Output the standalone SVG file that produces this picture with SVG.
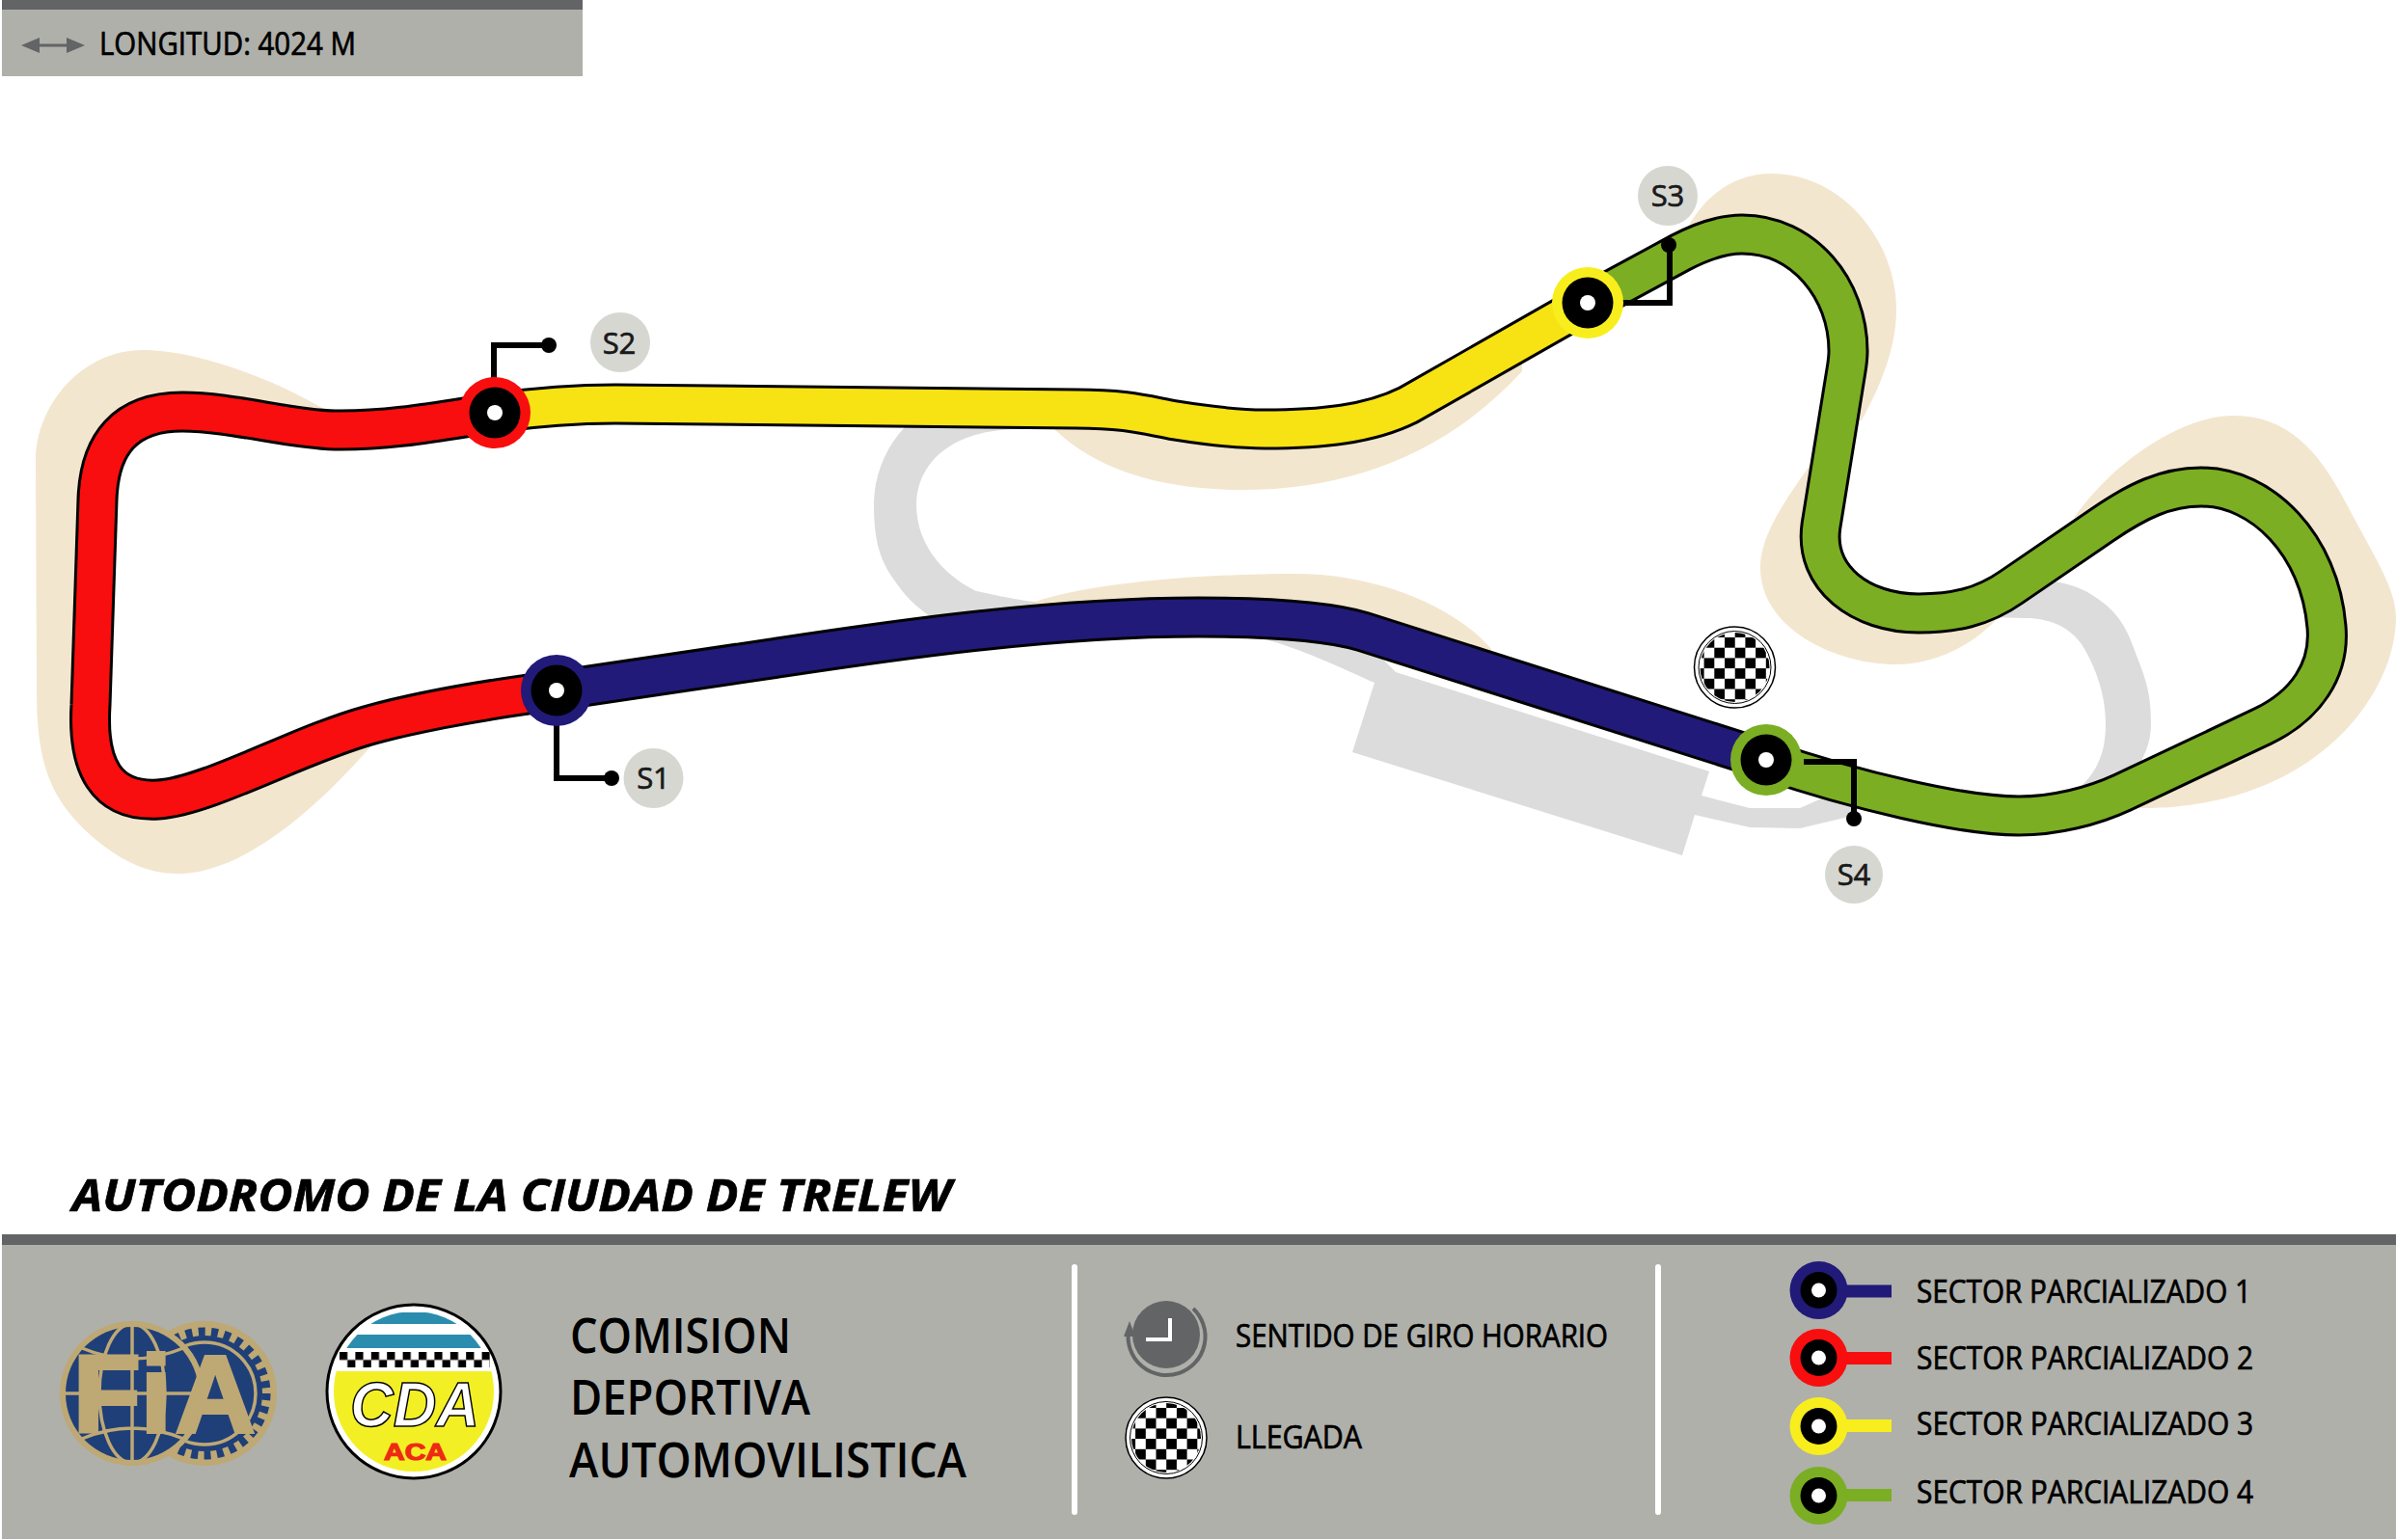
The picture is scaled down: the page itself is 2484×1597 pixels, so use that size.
<svg xmlns="http://www.w3.org/2000/svg" width="2484" height="1597" viewBox="0 0 2484 1597">
<style>
text{font-family:"Open Sans","Liberation Sans",sans-serif;fill:#000;stroke:#000;stroke-width:.7}
.beige{fill:#f3e6cf}
.grey{fill:#dddcdd}
.out{fill:none;stroke:#000;stroke-width:43;stroke-linejoin:round}
.in{fill:none;stroke-width:37;stroke-linejoin:round}
.lead{fill:none;stroke:#000;stroke-width:6}
.tag{fill:#d6d7d1}
.tagt{font-size:31px;text-anchor:middle;fill:#1a1a1a;stroke:#1a1a1a}
.leg{font-size:32px}
.org{font-size:50px;font-weight:600;stroke:none}
.ring-b{fill:#211a78}.ring-r{fill:#f80e0e}.ring-y{fill:#f8ee1e}.ring-g{fill:#7bae23}
.gold{fill:none;stroke:#bea874;stroke-width:3.5}
</style>
<defs>
<pattern id="chk" x="1777.3" y="671.7" width="21.4" height="21.4" patternUnits="userSpaceOnUse"><rect width="21.4" height="21.4" fill="#fff"/><rect width="10.7" height="10.7" fill="#000"/><rect x="10.7" y="10.7" width="10.7" height="10.7" fill="#000"/></pattern>
<pattern id="chkl" x="1187.8" y="1470.7" width="21.4" height="21.4" patternUnits="userSpaceOnUse"><rect width="21.4" height="21.4" fill="#fff"/><rect width="10.7" height="10.7" fill="#000"/><rect x="10.7" y="10.7" width="10.7" height="10.7" fill="#000"/></pattern>
<pattern id="chk2" x="352" y="1402" width="16.4" height="16.4" patternUnits="userSpaceOnUse"><rect width="16.4" height="16.4" fill="#fff"/><rect width="8.2" height="8.2" fill="#000"/><rect x="8.2" y="8.2" width="8.2" height="8.2" fill="#000"/></pattern>
<clipPath id="cdaclip"><circle cx="429" cy="1443" r="83"/></clipPath>
<g id="pin"><circle r="26.5" fill="#000"/><circle r="8" fill="#fff"/></g>
<g id="lpin"><circle r="19" fill="#000"/><circle r="7.5" fill="#fff"/></g>
<path id="t1" d="M577,716 L800,683 C900,668 1080,640 1242,640 C1320,640 1380,645 1413,655 L1831,788"/>
<path id="t2" d="M513,428 C460,436 405,447 347,446 C300,445 240,427 189,427 C130,427 103,460 101,518 L94,731 C90,795 110,832 164,829 C215,826 310,772 383,752 C430,739 500,726 577,716"/>
<path id="t3" d="M513,428 C550,423 590,419 638,419 L1116,424 C1170,424 1190,431 1219,436 C1250,441 1280,445 1311,445 C1370,445 1420,440 1460,420 L1646,314"/>
<path id="t4" d="M1646,314 L1742,262 C1765,250 1785,243 1806,243 C1870,243 1916,300 1916,364 C1916,372 1915,378 1914,384 L1888,545 C1880,600 1930,636 1989,636 C2025,636 2055,630 2085,609 L2180,544 C2215,520 2245,505 2282,505 C2345,505 2405,565 2412,650 C2416,695 2390,732 2346,753 L2200,822 C2170,836 2130,846 2093,846 C2035,846 1925,820 1831,788"/>
</defs>

<g id="header">
<rect x="2" y="0" width="602" height="79" fill="#afb0aa"/>
<rect x="2" y="0" width="602" height="10" fill="#636466"/>
<path d="M22,47 L41,39 V45.5 H69 V39 L88,47 L69,55 V48.5 H41 V55 Z" fill="#636466"/>
<text x="103" y="57" font-size="32" textLength="266" lengthAdjust="spacingAndGlyphs">LONGITUD: 4024 M</text>
</g>

<g id="runoff">
<path class="beige" d="M345,430 C300,400 210,363 148,363 C85,363 37,420 37,478 L38,715 C38,790 50,830 102,873 C130,895 155,906 184,906 C240,906 310,860 388,770 L383,752 L306,780 L230,813 L164,829 L118,812 L97,770 L94,720 L97,620 L101,518 L136,437 L189,427 L245,433 L345,446 Z"/>
<path class="beige" d="M1093,445 C1140,490 1210,508 1288,508 C1400,508 1500,470 1578,385 L1578,358 L1460,420 L1397,438 L1311,445 L1219,435 L1116,423 Z"/>
<path class="beige" d="M1073,624 C1130,605 1240,595 1345,595 C1420,595 1505,625 1546,673 L1546,697 L1413,655 L1242,640 L1030,649 Z"/>
<path class="beige" d="M1750,235 C1770,200 1800,180 1837,180 C1910,180 1966,250 1966,321 C1966,360 1950,400 1930,436 L1904,436 L1916,364 L1904,311 L1876,275 L1806,243 L1742,262 Z"/>
<path class="beige" d="M1878,480 C1850,520 1825,555 1825,589 C1825,650 1900,689 1966,689 C2005,689 2045,670 2073,639 L2085,609 L1989,636 L1910,609 L1885,557 L1895,490 Z"/>
<path class="beige" d="M2150,537 C2190,480 2260,431 2316,431 C2380,431 2410,480 2434,525 C2460,575 2484,610 2484,640 C2484,720 2400,838 2221,838 L2176,835 L2346,753 L2388,700 L2411,650 L2372,550 L2282,505 L2206,526 Z"/>
</g>

<g id="old-circuit">
<path class="grey" d="M938,443 C917,465 906,495 906,523 C906,560 912,580 926,600 C938,618 950,630 966,640 L1073,630 L1073,624 C1040,620 1025,615 1012,613 C985,600 950,570 950,523 C950,490 975,445 1058,445 L1060,430 L940,430 Z"/>
<path class="grey" d="M2060,640 L2100,641 C2125,641 2145,650 2158,668 C2172,690 2183,720 2183,750 C2183,780 2175,800 2153,820 L2190,830 C2215,800 2230,780 2230,750 C2230,720 2225,705 2215,680 C2205,650 2195,635 2175,621 C2160,610 2145,605 2124,602 Z"/>
<path class="grey" d="M1300,660 L1420,670 L1447,697 L1772,800 L1764,825 L1814,838 L1866,838 L1925,812 L1925,845 L1866,859 L1814,858 L1757,845 L1744,887 L1402,780 L1425,708 C1395,695 1345,670 1300,660 Z"/>
</g>

<g id="connectors">
<g id="track">
<use href="#t1" class="out"/>
<use href="#t2" class="out"/>
<use href="#t3" class="out"/>
<use href="#t4" class="out"/>
<use href="#t1" class="in" stroke="#211a78"/>
<use href="#t2" class="in" stroke="#f80e0e"/>
<use href="#t3" class="in" stroke="#f7e214"/>
<use href="#t4" class="in" stroke="#7bae23"/>
</g>
<g id="leaders">
<path class="lead" d="M577,750 V807 H634"/><circle cx="634" cy="807" r="8"/>
<path class="lead" d="M512,392 V358 H569"/><circle cx="569" cy="358" r="8"/>
<path class="lead" d="M1680,314 H1731 V254"/><circle cx="1730" cy="254" r="8"/>
<path class="lead" d="M1870,790 H1922 V849"/><circle cx="1922" cy="849" r="8"/>
</g>
</g>

<g id="node-s1"><circle cx="577" cy="716" r="37" class="ring-b"/><use href="#pin" x="577" y="716"/></g>
<g id="node-s2"><circle cx="513" cy="428" r="37" class="ring-r"/><use href="#pin" x="513" y="428"/></g>
<g id="node-s3"><circle cx="1646" cy="314" r="37" class="ring-y"/><use href="#pin" x="1646" y="314"/></g>
<g id="node-s4"><circle cx="1831" cy="788" r="37" class="ring-g"/><use href="#pin" x="1831" y="788"/></g>

<g id="tag-s1"><circle cx="677.5" cy="807" r="31" class="tag"/><text x="677.5" y="818" class="tagt">S1</text></g>
<g id="tag-s2"><circle cx="643" cy="355" r="31" class="tag"/><text x="642" y="367" class="tagt">S2</text></g>
<g id="tag-s3"><circle cx="1729" cy="203" r="31" class="tag"/><text x="1729" y="214" class="tagt">S3</text></g>
<g id="tag-s4"><circle cx="1922" cy="907" r="30" class="tag"/><text x="1922" y="918" class="tagt">S4</text></g>

<g id="finish"><circle cx="1798.5" cy="692" r="42" fill="#fff" stroke="#000" stroke-width="1.5"/><circle cx="1798.5" cy="692" r="37.5" fill="#fff" stroke="#000" stroke-width="1"/><circle cx="1798.5" cy="692" r="36" fill="url(#chk)"/></g>

<text id="title" x="75" y="1256" font-size="47" font-weight="700" font-style="italic" textLength="911" lengthAdjust="spacingAndGlyphs">AUTODROMO DE LA CIUDAD DE TRELEW</text>

<g id="footer">
<rect x="2" y="1280" width="2482" height="316" fill="#afb0aa"/>
<rect x="2" y="1280" width="2482" height="11" fill="#636466"/>
<rect x="1111" y="1311" width="6" height="260" rx="3" fill="#fff"/>
<rect x="1716" y="1311" width="6" height="260" rx="3" fill="#fff"/>
</g>

<g id="logo-fia">
<circle cx="212" cy="1445" r="75" fill="#bea874"/>
<circle cx="212" cy="1445" r="60" fill="#1f3f78"/>
<circle cx="212" cy="1445" r="64" fill="none" stroke="#1f3f78" stroke-width="9" stroke-dasharray="7 6.4"/>
<circle cx="212" cy="1445" r="53" class="gold"/>
<circle cx="137" cy="1445" r="75" fill="#bea874"/>
<circle cx="137" cy="1445" r="69" fill="#1f3f78"/>
<ellipse cx="137" cy="1445" rx="34" ry="72" class="gold"/>
<path class="gold" d="M137,1372 V1518 M66,1445 H204 M85,1398 Q137,1420 190,1398 M85,1492 Q137,1470 190,1492"/>
<text y="1485" font-size="114" font-weight="700" style="font-family:'Liberation Sans',sans-serif;fill:#bea874;stroke:#bea874;stroke-width:4"><tspan x="76">F</tspan><tspan x="146">i</tspan><tspan x="182">A</tspan></text>
</g>

<g id="logo-cda">
<circle cx="429" cy="1443" r="90" fill="#fff" stroke="#000" stroke-width="3"/>
<g clip-path="url(#cdaclip)">
<rect x="340" y="1361" width="180" height="12" fill="#2b8dae"/>
<rect x="340" y="1384" width="180" height="14" fill="#2b8dae"/>
<rect x="340" y="1422" width="180" height="110" fill="#f3ef25"/>
</g>
<rect x="352" y="1402" width="156" height="16" fill="url(#chk2)"/>
<text x="363" y="1479" font-size="64" font-weight="700" font-style="italic" textLength="134" lengthAdjust="spacingAndGlyphs" style="font-family:'Liberation Sans',sans-serif;fill:#fff;stroke:#000;stroke-width:1.5">CDA</text>
<text x="398" y="1514" font-size="24" font-weight="700" textLength="65" lengthAdjust="spacingAndGlyphs" style="font-family:'Liberation Sans',sans-serif;fill:#ee2a12;stroke:#ee2a12;stroke-width:1.2">ACA</text>
</g>

<g id="org">
<text class="org" x="591" y="1403" textLength="229" lengthAdjust="spacingAndGlyphs">COMISION</text>
<text class="org" x="591" y="1467" textLength="249" lengthAdjust="spacingAndGlyphs">DEPORTIVA</text>
<text class="org" x="590" y="1532" textLength="412" lengthAdjust="spacingAndGlyphs">AUTOMOVILISTICA</text>
</g>

<g id="legend-clock">
<circle cx="1209" cy="1384" r="35" fill="#636466"/>
<path d="M1237,1357 A40,40 0 1 1 1170,1380" fill="none" stroke="#636466" stroke-width="4"/>
<polygon points="1171,1370 1165,1386 1177,1386" fill="#636466"/>
<path d="M1213,1367 V1389 H1188" fill="none" stroke="#fff" stroke-width="4"/>
<text class="leg" x="1281" y="1397" textLength="386" lengthAdjust="spacingAndGlyphs">SENTIDO DE GIRO HORARIO</text>
</g>
<g id="legend-finish"><circle cx="1209" cy="1491" r="42" fill="#fff" stroke="#000" stroke-width="1.5"/><circle cx="1209" cy="1491" r="37.5" fill="#fff" stroke="#000" stroke-width="1"/><circle cx="1209" cy="1491" r="36" fill="url(#chkl)"/>
<text class="leg" x="1281" y="1502" textLength="131" lengthAdjust="spacingAndGlyphs">LLEGADA</text>
</g>
<g id="legend-s1"><rect x="1885" y="1332.5" width="76" height="13" class="ring-b"/><circle cx="1885.5" cy="1338" r="30" class="ring-b"/><use href="#lpin" x="1885.5" y="1338"/>
<text class="leg" x="1987" y="1351" textLength="347" lengthAdjust="spacingAndGlyphs">SECTOR PARCIALIZADO 1</text></g>
<g id="legend-s2"><rect x="1885" y="1402" width="76" height="13" class="ring-r"/><circle cx="1885.5" cy="1408" r="30" class="ring-r"/><use href="#lpin" x="1885.5" y="1408"/>
<text class="leg" x="1987" y="1420" textLength="349" lengthAdjust="spacingAndGlyphs">SECTOR PARCIALIZADO 2</text></g>
<g id="legend-s3"><rect x="1885" y="1472" width="76" height="13" class="ring-y"/><circle cx="1885.5" cy="1479" r="30" class="ring-y"/><use href="#lpin" x="1885.5" y="1479"/>
<text class="leg" x="1987" y="1488" textLength="349" lengthAdjust="spacingAndGlyphs">SECTOR PARCIALIZADO 3</text></g>
<g id="legend-s4"><rect x="1885" y="1544" width="76" height="13" class="ring-g"/><circle cx="1885.5" cy="1551" r="30" class="ring-g"/><use href="#lpin" x="1885.5" y="1551"/>
<text class="leg" x="1987" y="1559" textLength="349" lengthAdjust="spacingAndGlyphs">SECTOR PARCIALIZADO 4</text></g>
</svg>
